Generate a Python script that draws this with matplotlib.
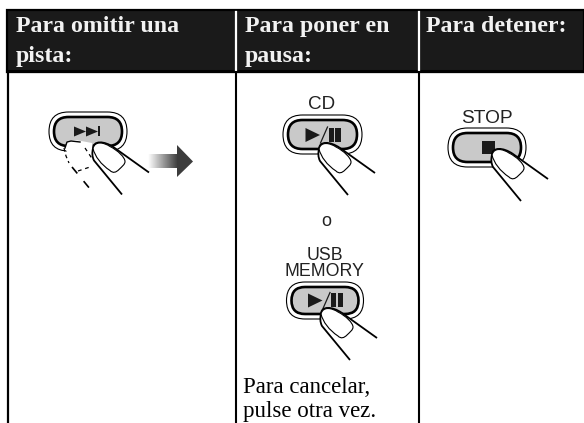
#!/usr/bin/env python3

import matplotlib
matplotlib.use("Agg")
import matplotlib.pyplot as plt
import numpy as np
from matplotlib.colors import LinearSegmentedColormap
from matplotlib.patches import FancyBboxPatch, PathPatch, Polygon
from matplotlib.path import Path

header_lines = [["Para omitir una", "pista:"], ["Para poner en", "pausa:"], ["Para detener:"]]
header_x = [16, 245, 426]
footer_lines = ["Para cancelar,", "pulse otra vez."]
button_labels = ["CD", "o", "USB", "MEMORY", "STOP"]

bg_dark = "#1a1a1a"
ink = "#222222"
serif = "Liberation Serif"
sans = "Liberation Sans"

fig = plt.figure(figsize=(5.84, 4.23), dpi=100)
ax = fig.add_axes([0, 0, 1, 1])
ax.set_xlim(0, 584)
ax.set_ylim(423, 0)
ax.axis("off")

# table
ax.add_patch(plt.Rectangle((7, 10), 577, 62, fc=bg_dark, ec="black", lw=1.6, zorder=1))
ax.plot([7, 584], [71.5, 71.5], color="black", lw=2.2, zorder=2)
for x in [236, 419]:
    ax.plot([x, x], [12, 70], color="white", lw=1.6, zorder=2)
    ax.plot([x, x], [72, 423], color="black", lw=1.5, zorder=2)
ax.plot([8, 8], [72, 423], color="black", lw=1.6, zorder=2)

for lines, x in zip(header_lines, header_x):
    for i, s in enumerate(lines):
        ax.text(x, 32 + i * 30, s, color="#f2f2f2", family=serif, weight="bold",
                fontsize=17.2, va="baseline", ha="left", zorder=3)

for i, s in enumerate(footer_lines):
    ax.text(243, 393 + i * 24, s, color="black", family=serif, fontsize=16.5,
            va="baseline", ha="left", zorder=3)

ax.text(322, 109, button_labels[0], family=sans, fontsize=13.6, ha="center", va="baseline", color=ink)
ax.text(326, 226, button_labels[1], family=sans, fontsize=13, ha="center", va="baseline", color=ink)
ax.text(325, 260, button_labels[2], family=sans, fontsize=12.8, ha="center", va="baseline", color=ink)
ax.text(324, 276, button_labels[3], family=sans, fontsize=12.8, ha="center", va="baseline", color=ink)
ax.text(487, 123, button_labels[4], family=sans, fontsize=13.8, ha="center", va="baseline", color=ink)


def button(cx, cy, w, h):
    # outer ring then the grey key
    r = h / 2
    ax.add_patch(FancyBboxPatch((cx - w / 2 + r, cy - h / 2 + r), w - 2 * r, h - 2 * r,
                                boxstyle="round,pad=%f,rounding_size=%f" % (r, r),
                                fc="white", ec="black", lw=0.8, zorder=4))
    r2 = r - 5
    ax.add_patch(FancyBboxPatch((cx - w / 2 + 5 + r2, cy - h / 2 + 5 + r2), w - 10 - 2 * r2, h - 10 - 2 * r2,
                                boxstyle="round,pad=%f,rounding_size=%f" % (r2, r2),
                                fc="#c9c9c9", ec="black", lw=1.9, zorder=5))


def glyph(kind, cx, cy):
    c = "#1a1a1a"
    if kind == "skip":
        ax.add_patch(Polygon([(cx - 14, cy - 5), (cx - 2, cy), (cx - 14, cy + 5)], fc=c, ec="none", zorder=6))
        ax.add_patch(Polygon([(cx - 2, cy - 5), (cx + 10, cy), (cx - 2, cy + 5)], fc=c, ec="none", zorder=6))
        ax.add_patch(plt.Rectangle((cx + 10, cy - 5), 2, 10, fc=c, ec="none", zorder=6))
    elif kind == "play":
        ax.add_patch(Polygon([(cx - 17, cy - 7), (cx - 2.5, cy), (cx - 17, cy + 7)], fc=c, ec="none", zorder=6))
        ax.plot([cx - 2, cx + 5], [cy + 8, cy - 8], color=c, lw=0.9, zorder=6)
        ax.add_patch(plt.Rectangle((cx + 6, cy - 7), 5, 14, fc=c, ec="none", zorder=6))
        ax.add_patch(plt.Rectangle((cx + 12.5, cy - 7), 5.5, 14, fc=c, ec="none", zorder=6))
    elif kind == "stop":
        ax.add_patch(plt.Rectangle((cx - 6, cy - 6.5), 13, 13, fc=c, ec="none", zorder=6))


def finger(tx, ty, z=7):
    # tx, ty is the top of the fingertip, outline then nail
    verts = [(tx + 57, ty + 28), (tx + 22, ty + 3),
             (tx + 12, ty - 4), (tx + 1, ty - 4), (tx + 1, ty + 4),
             (tx, ty + 8), (tx, ty + 12), (tx + 2, ty + 16),
             (tx + 30, ty + 50)]
    codes = [Path.MOVETO, Path.LINETO] + [Path.CURVE4] * 6 + [Path.LINETO]
    ax.add_patch(PathPatch(Path(verts + [verts[0]], codes + [Path.LINETO]), fc="white", ec="none", zorder=z))
    ax.add_patch(PathPatch(Path(verts, codes), fc="none", ec="black", lw=1.3, zorder=z + 1))
    nail = [(tx + 1, ty + 4),
            (tx + 3, ty + 12), (tx + 9, ty + 20), (tx + 18, ty + 26),
            (tx + 21, ty + 29), (tx + 24, ty + 28), (tx + 27, ty + 25),
            (tx + 30, ty + 22), (tx + 33, ty + 20), (tx + 33, ty + 17),
            (tx + 33, ty + 13), (tx + 26, ty + 6), (tx + 18, ty + 2),
            (tx + 12, ty - 2), (tx + 3, ty - 4), (tx + 1, ty + 4)]
    nail_codes = [Path.MOVETO] + [Path.CURVE4] * 15
    ax.add_patch(PathPatch(Path(nail, nail_codes), fc="white", ec="black", lw=0.8, zorder=z + 2))


# skip button with ghost finger and arrow
button(88, 131.5, 78, 39)
glyph("skip", 88, 131.5)
ghost = Polygon([(65, 148), (67, 141), (76, 140), (92, 143), (96, 160), (90, 170), (76, 170)], fc="white", ec="none", zorder=6.5)
ax.add_patch(ghost)
ax.plot([65, 67, 71, 80], [148, 142, 141, 142], color="black", lw=1.0, zorder=6.6)
ax.plot([64, 66, 69], [148, 156, 163], color="black", lw=0.9, ls=(0, (3, 2.5)), zorder=6.6)
ax.plot([72, 95], [167, 195], color="black", lw=1.2, ls=(0, (5, 6)), zorder=6.6)
ax.plot([78, 90], [171, 167], color="black", lw=0.9, ls=(0, (3, 3)), zorder=6.6)
ax.plot([85, 93], [148, 160], color="black", lw=0.9, ls=(0, (3, 3)), zorder=6.6)
finger(92, 144.5)

grad = np.linspace(0, 1, 64).reshape(1, -1)
ax.imshow(grad, extent=[148, 178, 168, 154], cmap=LinearSegmentedColormap.from_list("g", ["#ffffff", "#3c3c3c"]),
          aspect="auto", zorder=3)
ax.add_patch(Polygon([(177, 145), (193, 161.5), (177, 177)], fc="#3c3c3c", ec="none", zorder=3))
ax.set_xlim(0, 584)
ax.set_ylim(423, 0)

button(322.5, 134.5, 79, 39)
glyph("play", 322.5, 135)
finger(318, 145)

button(325, 300.5, 77, 37)
glyph("play", 325, 300.5)
finger(320, 310)

button(487, 147.5, 78, 39)
glyph("stop", 487.5, 147.5)
finger(491, 151)

fig.savefig("out.png", dpi=100)
plt.close(fig)
